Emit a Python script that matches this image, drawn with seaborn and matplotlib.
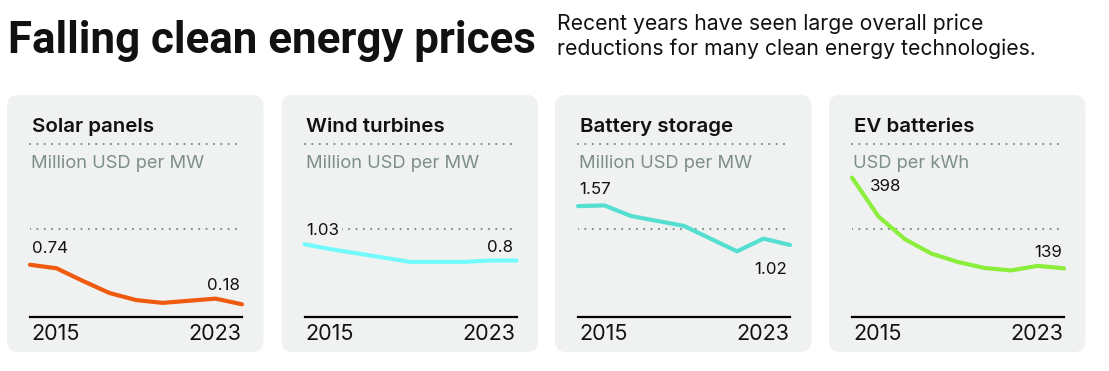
import matplotlib
matplotlib.use("Agg")
import matplotlib.pyplot as plt
import seaborn as sns
import pandas as pd
from matplotlib import font_manager
from matplotlib.patches import FancyBboxPatch
from matplotlib.transforms import IdentityTransform

# ---------------- data ----------------
years = list(range(2015, 2024))
solar = [0.74, 0.69, 0.51, 0.34, 0.24, 0.20, 0.23, 0.26, 0.18]
wind = [1.03, 0.96, 0.90, 0.84, 0.78, 0.78, 0.78, 0.80, 0.80]
battery = [1.57, 1.58, 1.43, 1.36, 1.29, 1.11, 0.93, 1.11, 1.02]
ev = [398, 287, 222, 181, 157, 140, 133, 146, 139]

titles = ["Solar panels", "Wind turbines", "Battery storage", "EV batteries"]
units = ["Million USD per MW", "Million USD per MW", "Million USD per MW", "USD per kWh"]
start_labels = ["0.74", "1.03", "1.57", "398"]
end_labels = ["0.18", "0.8", "1.02", "139"]
year_labels = ["2015", "2023"]
main_title = "Falling clean energy prices"
subtitle_lines = ["Recent years have seen large overall price",
                  "reductions for many clean energy technologies."]

series = [solar, wind, battery, ev]
colors = ["#EE5A0E", "#72FAFD", "#55DFD1", "#8CEE3C"]
ymax = [2.45, 2.45, 2.45, 494]
ymid = [1.25, 1.25, 1.25, 250]

# ---------------- style ----------------
sns.set_theme(style="white")
available = {f.name for f in font_manager.fontManager.ttflist}
body_family = ["Inter", "DejaVu Sans"] if "Inter" in available else ["DejaVu Sans"]
plt.rcParams["font.family"] = body_family
if "Liberation Sans Narrow" in available:
    title_family = ["Liberation Sans Narrow", "DejaVu Sans"]
elif "Roboto" in available:
    title_family = ["Roboto", "DejaVu Sans"]
else:
    title_family = body_family

BG = "#EFF2F1"
GRAY = "#7D8E8B"
INK = "#111111"

W, H = 1109, 371
fig = plt.figure(figsize=(W / 100, H / 100), dpi=100)
fig.patch.set_facecolor("white")


def fx(x):
    return x / W


def fy(y):
    return 1 - y / H


panel_left = [7, 281.5, 555, 829]
panel_w, panel_top, panel_bot = 256.5, 95, 352
ax_off, ax_w, ax_bot, ax_top = 23, 212, 317, 144

start_off = [(2, 12), (2, 9.4), (1, 12.3), (18, -13.4)]
end_off = [(-2, 14), (-3, 8.3), (-3, -29), (-2, 11.6)]

dot_kw = dict(color=GRAY, lw=1.6, linestyle=(0, (0.01, 3.3)),
              dash_capstyle="round", zorder=1)

for i in range(4):
    pl = panel_left[i]
    patch = FancyBboxPatch((pl, H - panel_bot), panel_w, panel_bot - panel_top,
                           boxstyle="round,pad=0,rounding_size=11",
                           transform=IdentityTransform(), fc=BG, ec="none", zorder=0)
    fig.add_artist(patch)

    axl = pl + ax_off
    ax = fig.add_axes([fx(axl), fy(ax_bot), ax_w / W, (ax_bot - ax_top) / H])
    ax.patch.set_alpha(0)
    df = pd.DataFrame({"year": years, "value": series[i]})
    sns.lineplot(data=df, x="year", y="value", ax=ax, color=colors[i], lw=3,
                 zorder=4, clip_on=False)
    ax.set_xlim(years[0], years[-1])
    ax.set_ylim(0, ymax[i])
    ax.axhline(ymid[i], **dot_kw)
    ax.axhline(ymax[i], clip_on=False, **dot_kw)
    for s in ["top", "left", "right"]:
        ax.spines[s].set_visible(False)
    ax.spines["bottom"].set_color("black")
    ax.spines["bottom"].set_linewidth(1.6)
    ax.set_xticks([])
    ax.set_yticks([])
    ax.set_xlabel("")
    ax.set_ylabel("")

    lab_kw = dict(textcoords="offset pixels", va="baseline", fontsize=12.2,
                  color=INK, zorder=3,
                  bbox=dict(fc=BG, ec="none", pad=1.5))
    ax.annotate(start_labels[i], xy=(years[0], series[i][0]), xytext=start_off[i],
                ha="left", **lab_kw)
    ax.annotate(end_labels[i], xy=(years[-1], series[i][-1]), xytext=end_off[i],
                ha="right", **lab_kw)

    fig.text(fx(axl + 1.5), fy(131.7), titles[i], fontsize=14.8,
             fontweight="semibold", color=INK, va="baseline", ha="left")
    fig.text(fx(axl + 1), fy(168.3), units[i], fontsize=13.2, color=GRAY,
             va="baseline", ha="left")
    fig.text(fx(axl + 1), fy(340), year_labels[0], fontsize=15.5, color=INK,
             va="baseline", ha="left")
    fig.text(fx(axl + ax_w - 1), fy(340), year_labels[1], fontsize=15.5, color=INK,
             va="baseline", ha="right")

t = fig.text(fx(8), fy(53.3), main_title, fontsize=31, fontweight="bold",
             family=title_family, color=INK, va="baseline", ha="left")
s1 = fig.text(fx(557), fy(30), subtitle_lines[0], fontsize=13.2, color=INK,
              va="baseline", ha="left")
s2 = fig.text(fx(557), fy(55), subtitle_lines[1], fontsize=13.2, color=INK,
              va="baseline", ha="left")
fig.canvas.draw()
r = fig.canvas.get_renderer()
w = t.get_window_extent(renderer=r).width
t.set_fontsize(31 * 527 / w)
w2 = s2.get_window_extent(renderer=r).width
sub_fs = 13.2 * 474 / w2
s1.set_fontsize(sub_fs)
s2.set_fontsize(sub_fs)

fig.savefig("out.png", dpi=100)
